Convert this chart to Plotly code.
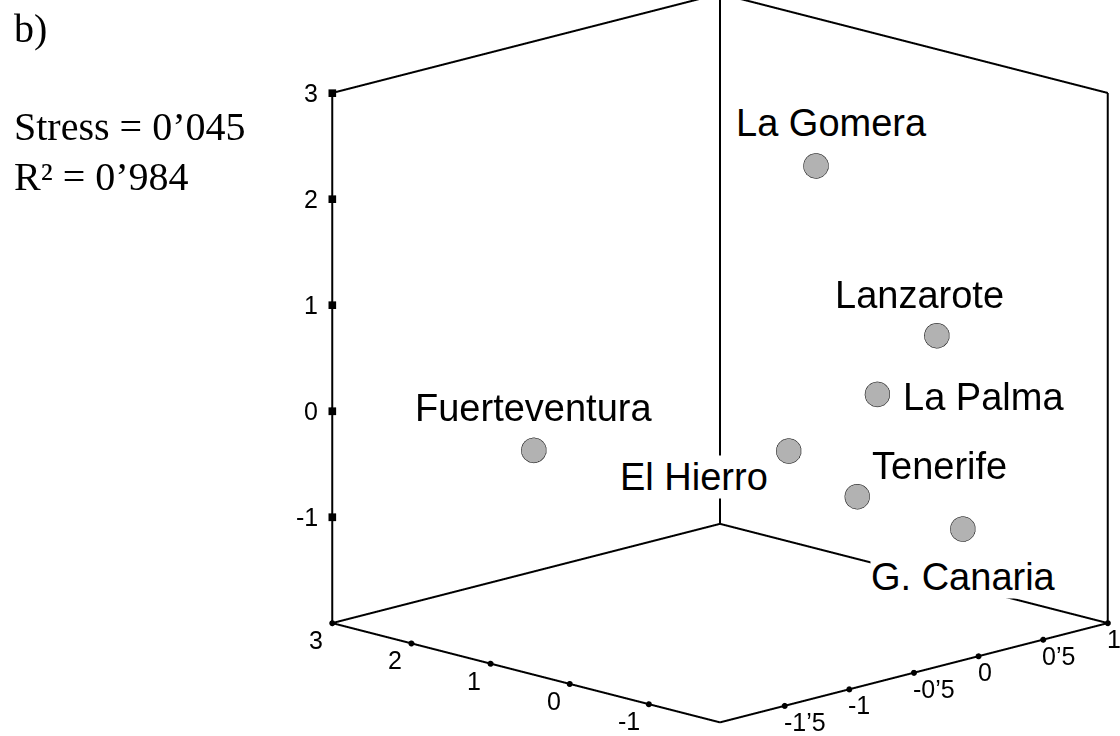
import plotly.graph_objects as go

# MDS configuration (3 dimensions) of the Canary Islands
islands = ["La Gomera", "Lanzarote", "La Palma", "Fuerteventura",
           "El Hierro", "Tenerife", "G. Canaria"]
dim1 = [-0.28, 0.49, 0.03, -1.52, -0.16, -0.12, 0.44]
dim2 = [-0.30, -0.57, -0.57, 1.24, 0.24, -0.56, -0.98]
dim3 = [2.41, 0.62, 0.21, -0.18, -0.42, -0.71, -1.11]

# box extent and tick labels
x_box = [-2.0, 1.0]
y_box = [-1.9, 3.0]
z_box = [-2.0, 3.0]
x_ticks = [-1.5, -1.0, -0.5, 0.0, 0.5, 1.0]
x_tick_text = ["-1’5", "-1", "-0’5", "0", "0’5", "1"]
y_ticks = [3, 2, 1, 0, -1]
y_tick_text = ["3", "2", "1", "0", "-1"]
z_ticks = [3, 2, 1, 0, -1]
z_tick_text = ["3", "2", "1", "0", "-1"]

stress_text = "Stress = 0’045"
rsq_text = "R² = 0’984"

# label placement around each marker: (xanchor, xshift, yshift)
label_place = {
    "La Gomera": ("center", 16, 42),
    "Lanzarote": ("center", -17, 40),
    "La Palma": ("left", 25, -3),
    "Fuerteventura": ("center", 0, 42),
    "El Hierro": ("right", -19, -26),
    "Tenerife": ("left", 14, 30),
    "G. Canaria": ("center", 1, -48),
}

SANS = "Liberation Sans, Arial, sans-serif"
SERIF = "Liberation Serif, Times New Roman, serif"

x0, x1 = x_box
y0, y1 = y_box
z0, z1 = z_box


def padded(lo, hi, frac=0.01):
    # keep the box edges just inside the scene clip bounds
    d = (hi - lo) * frac
    return [lo - d, hi + d]


# open box: back walls and floor
edges = [
    ((x0, y1, z0), (x0, y1, z1)),
    ((x1, y0, z0), (x1, y0, z1)),
    ((x1, y1, z0), (x1, y1, z1)),
    ((x0, y1, z1), (x1, y1, z1)),
    ((x1, y1, z1), (x1, y0, z1)),
    ((x0, y1, z0), (x0, y0, z0)),
    ((x0, y0, z0), (x1, y0, z0)),
    ((x1, y0, z0), (x1, y1, z0)),
    ((x1, y1, z0), (x0, y1, z0)),
]

fig = go.Figure()
for a, b in edges:
    fig.add_trace(go.Scatter3d(x=[a[0], b[0]], y=[a[1], b[1]], z=[a[2], b[2]],
                               mode="lines", line=dict(color="black", width=4),
                               hoverinfo="skip", showlegend=False))

# tick marks
fig.add_trace(go.Scatter3d(x=[x0] * len(z_ticks), y=[y1] * len(z_ticks), z=z_ticks,
                           mode="markers",
                           marker=dict(symbol="square", size=4, color="black"),
                           hoverinfo="skip", showlegend=False))
fig.add_trace(go.Scatter3d(x=x_ticks, y=[y0] * len(x_ticks), z=[z0] * len(x_ticks),
                           mode="markers",
                           marker=dict(symbol="circle", size=3.5, color="black"),
                           hoverinfo="skip", showlegend=False))
fig.add_trace(go.Scatter3d(x=[x0] * len(y_ticks), y=y_ticks, z=[z0] * len(y_ticks),
                           mode="markers",
                           marker=dict(symbol="circle", size=3.5, color="black"),
                           hoverinfo="skip", showlegend=False))

# island points
fig.add_trace(go.Scatter3d(x=dim1, y=dim2, z=dim3, mode="markers",
                           marker=dict(size=14.5, color="#b2b2b2",
                                       line=dict(color="black", width=6),
                                       opacity=1),
                           hoverinfo="skip", showlegend=False))

scene_ann = []
for t, tx in zip(z_ticks, z_tick_text):
    scene_ann.append(dict(x=x0, y=y1, z=t, text=tx, showarrow=False,
                          xanchor="right", xshift=-12,
                          font=dict(family=SANS, size=25, color="black")))
for t, tx in zip(x_ticks, x_tick_text):
    scene_ann.append(dict(x=t, y=y0, z=z0, text=tx, showarrow=False,
                          xanchor="left", xshift=-3, yshift=-16,
                          font=dict(family=SANS, size=25, color="black")))
for t, tx in zip(y_ticks, y_tick_text):
    scene_ann.append(dict(x=x0, y=t, z=z0, text=tx, showarrow=False,
                          xanchor="right", xshift=-7, yshift=-17,
                          font=dict(family=SANS, size=25, color="black")))
for name, a, b, c in zip(islands, dim1, dim2, dim3):
    anchor, xs, ys = label_place[name]
    scene_ann.append(dict(x=a, y=b, z=c, text=name, showarrow=False,
                          xanchor=anchor, yanchor="middle", xshift=xs, yshift=ys,
                          bgcolor="white", borderpad=0,
                          font=dict(family=SANS, size=38, color="black")))

hidden = dict(showgrid=False, zeroline=False, showline=False, showticklabels=False,
              showbackground=False, showspikes=False, ticks="", title=dict(text=""))

# orthographic view: zoom comes from the aspect ratio, direction from the eye
zoom = 1.520
k = 2.0
cz = -0.028  # lift the box slightly inside the full-height viewport
fig.update_layout(
    width=1120, height=736,
    margin=dict(l=0, r=0, t=0, b=0),
    paper_bgcolor="white",
    scene=dict(
        domain=dict(x=[0.2857, 1.0], y=[0.0, 1.0]),
        xaxis=dict(range=padded(x0, x1), **hidden),
        yaxis=dict(range=padded(y0, y1), **hidden),
        zaxis=dict(range=padded(z0, z1), **hidden),
        aspectmode="manual",
        aspectratio=dict(x=zoom, y=zoom, z=zoom),
        camera=dict(eye=dict(x=-0.6836 * k, y=-0.6836 * k, z=0.256 * k + cz),
                    up=dict(x=0, y=0, z=1),
                    center=dict(x=0, y=0, z=cz),
                    projection=dict(type="orthographic")),
        annotations=scene_ann,
        dragmode=False,
    ),
    annotations=[
        dict(x=12 / 1120, y=0.9613, xref="paper", yref="paper", text="b)",
             showarrow=False, xanchor="left", yanchor="middle",
             font=dict(family=SERIF, size=40, color="black")),
        dict(x=12 / 1120, y=0.8281, xref="paper", yref="paper", text=stress_text,
             showarrow=False, xanchor="left", yanchor="middle",
             font=dict(family=SERIF, size=40, color="black")),
        dict(x=12 / 1120, y=0.7602, xref="paper", yref="paper", text=rsq_text,
             showarrow=False, xanchor="left", yanchor="middle",
             font=dict(family=SERIF, size=40, color="black")),
    ],
)

fig.write_html("out.html", config={"displayModeBar": False})
